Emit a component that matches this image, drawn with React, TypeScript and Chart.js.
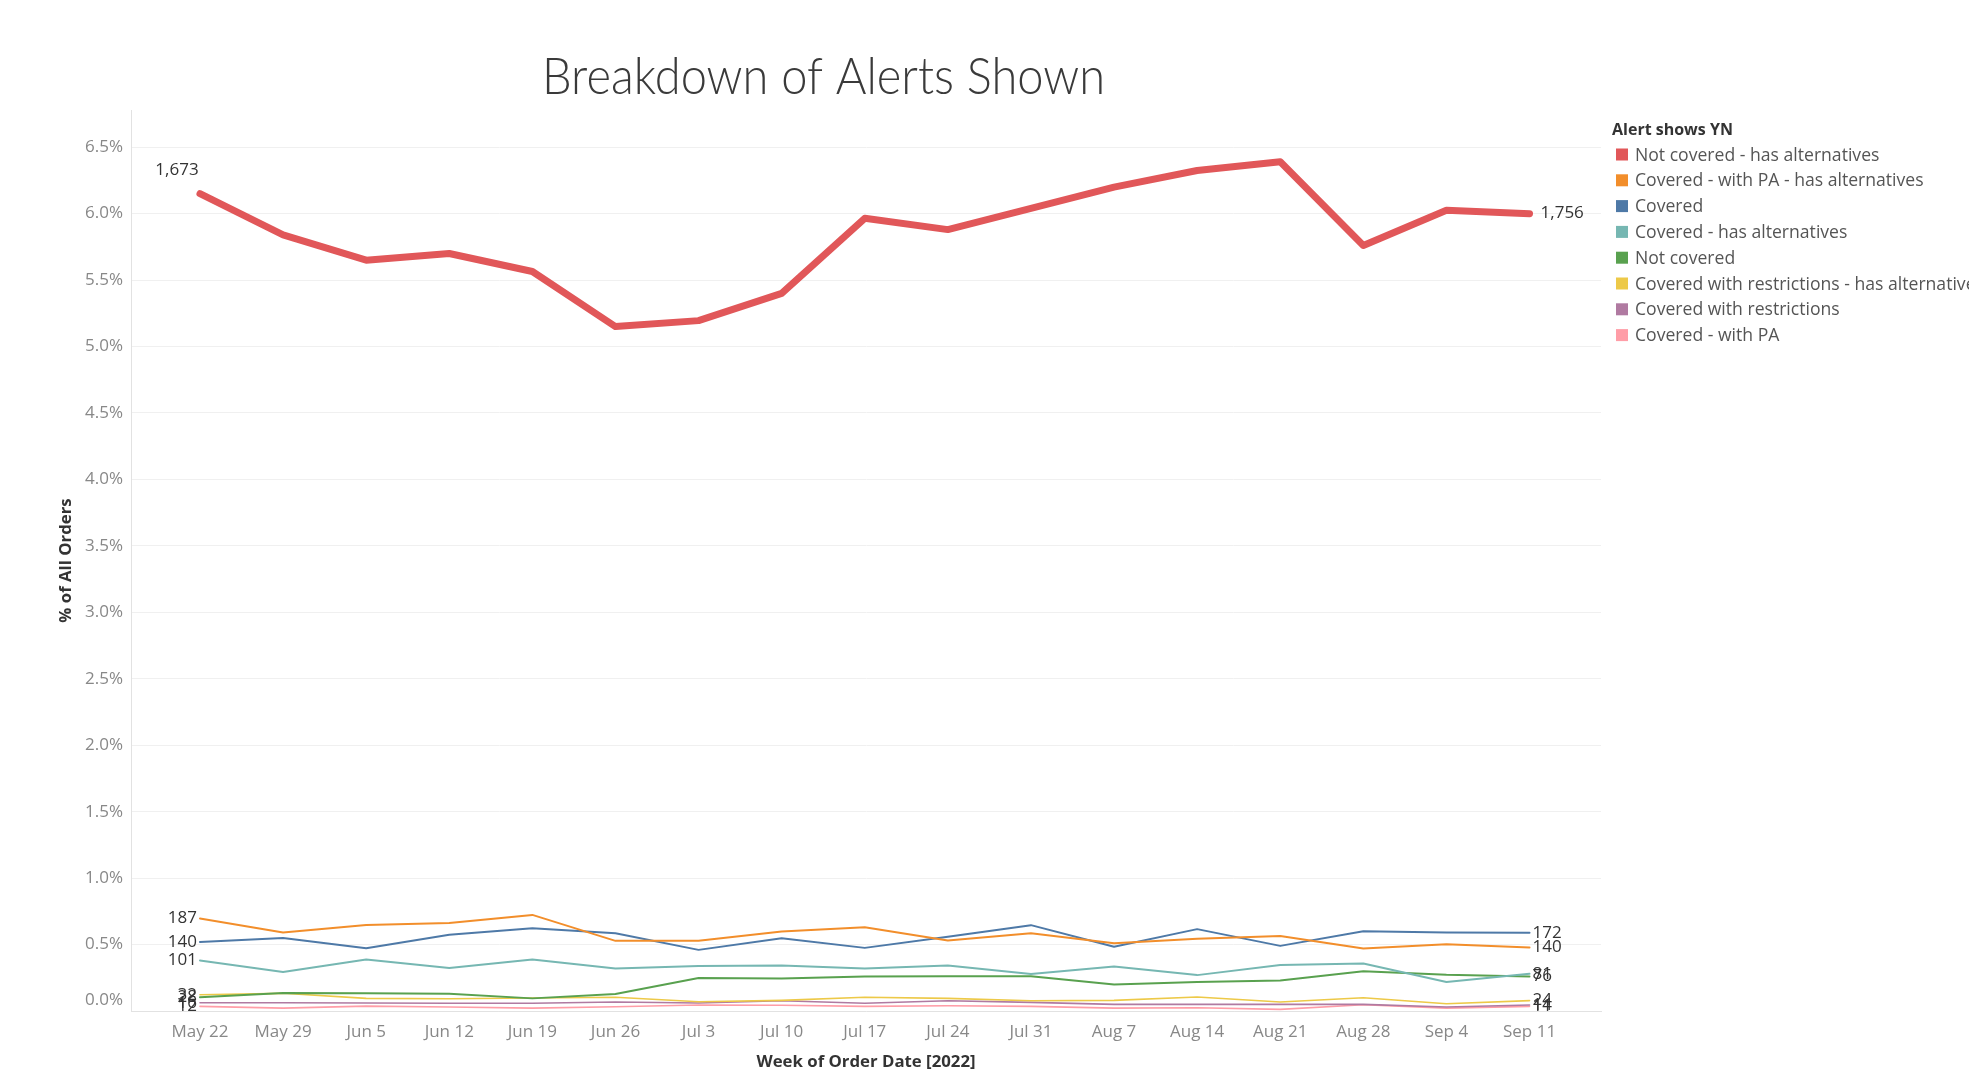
import React, { useEffect, useRef } from 'react';
import { Chart, registerables } from 'chart.js';

Chart.register(...registerables);

// ---------- data ----------
const weeks = ['May 22', 'May 29', 'Jun 5', 'Jun 12', 'Jun 19', 'Jun 26', 'Jul 3', 'Jul 10', 'Jul 17', 'Jul 24', 'Jul 31', 'Aug 7', 'Aug 14', 'Aug 21', 'Aug 28', 'Sep 4', 'Sep 11'];
const yTickValues = [0, 0.5, 1, 1.5, 2, 2.5, 3, 3.5, 4, 4.5, 5, 5.5, 6, 6.5];

const seriesNames = [
  'Not covered - has alternatives',
  'Covered - with PA - has alternatives',
  'Covered',
  'Covered - has alternatives',
  'Not covered',
  'Covered with restrictions - has alternatives',
  'Covered with restrictions',
  'Covered - with PA',
];
const seriesColors = ['#E15759', '#F28E2B', '#4E79A7', '#76B7B2', '#59A14F', '#EDC948', '#B07AA1', '#FF9DA7'];

const notCoveredHasAlt = [6.15, 5.84, 5.65, 5.70, 5.565, 5.15, 5.195, 5.40, 5.965, 5.88, 6.04, 6.20, 6.325, 6.39, 5.76, 6.025, 6.00];
const coveredWithPaHasAlt = [0.696, 0.591, 0.648, 0.663, 0.723, 0.528, 0.528, 0.598, 0.63, 0.53, 0.585, 0.51, 0.544, 0.565, 0.471, 0.502, 0.478];
const covered = [0.52, 0.55, 0.473, 0.573, 0.623, 0.585, 0.46, 0.548, 0.475, 0.558, 0.646, 0.484, 0.616, 0.49, 0.60, 0.59, 0.588];
const coveredHasAlt = [0.38, 0.293, 0.388, 0.323, 0.388, 0.32, 0.338, 0.343, 0.32, 0.343, 0.278, 0.334, 0.27, 0.347, 0.357, 0.218, 0.28];
const notCovered = [0.103, 0.135, 0.133, 0.13, 0.095, 0.128, 0.248, 0.245, 0.26, 0.262, 0.262, 0.2, 0.218, 0.23, 0.30, 0.272, 0.26];
const coveredRestrHasAlt = [0.122, 0.133, 0.095, 0.092, 0.098, 0.103, 0.07, 0.08, 0.103, 0.095, 0.077, 0.08, 0.105, 0.068, 0.1, 0.055, 0.078];
const coveredRestr = [0.062, 0.062, 0.06, 0.058, 0.058, 0.068, 0.06, 0.077, 0.058, 0.077, 0.065, 0.05, 0.05, 0.05, 0.05, 0.03, 0.045];
const coveredWithPa = [0.035, 0.022, 0.037, 0.03, 0.022, 0.032, 0.045, 0.043, 0.035, 0.04, 0.035, 0.022, 0.025, 0.012, 0.047, 0.022, 0.035];

const startLabels = ['1,673', '187', '140', '101', '28', '32', '16', '12'];
const endLabels = ['1,756', '140', '172', '81', '76', '24', '14', '11'];

const seriesValues = [notCoveredHasAlt, coveredWithPaHasAlt, covered, coveredHasAlt, notCovered, coveredRestrHasAlt, coveredRestr, coveredWithPa];
const lineWidths = [7, 2, 2, 2, 2, 1.6, 1.6, 1.6];

const chartTitle = 'Breakdown of Alerts Shown';
const legendTitle = 'Alert shows YN';

// ---------- styling ----------
const W = 1969;
const H = 1072;
const FONT = '"Open Sans", "Noto Sans", sans-serif';

const overlayPlugin = {
  id: 'overlay',
  afterDatasetsDraw(chart: any) {
    const ctx = chart.ctx as CanvasRenderingContext2D;
    ctx.save();
    ctx.fillStyle = '#333333';
    ctx.font = `17px ${FONT}`;
    ctx.textBaseline = 'middle';
    chart.data.datasets.forEach((_ds: any, i: number) => {
      const meta = chart.getDatasetMeta(i);
      const p0 = meta.data[0];
      const pN = meta.data[meta.data.length - 1];
      if (i === 0) {
        ctx.textAlign = 'center';
        ctx.fillText(startLabels[i], p0.x - 23, p0.y - 24);
        ctx.textAlign = 'left';
        ctx.fillText(endLabels[i], pN.x + 11, pN.y);
      } else {
        ctx.textAlign = 'right';
        ctx.fillText(startLabels[i], p0.x - 3, p0.y);
        ctx.textAlign = 'left';
        ctx.fillText(endLabels[i], pN.x + 3, pN.y);
      }
    });
    ctx.restore();
  },
  afterDraw(chart: any) {
    const ctx = chart.ctx as CanvasRenderingContext2D;
    // 0.0% tick label (kept inside the axis like the reference)
    ctx.save();
    const ys = chart.scales.y;
    ctx.font = `17px ${FONT}`;
    ctx.fillStyle = '#888888';
    ctx.textAlign = 'right';
    ctx.textBaseline = 'middle';
    ctx.fillText(yTickValues[0].toFixed(1) + '%', ys.right - 8, ys.getPixelForValue(yTickValues[0]) - 11);
    ctx.restore();

    // title (condensed light look)
    ctx.save();
    ctx.font = `300 52px Lato, ${FONT}`;
    ctx.fillStyle = '#3a3a3a';
    ctx.textAlign = 'left';
    ctx.textBaseline = 'alphabetic';
    const tw = ctx.measureText(chartTitle).width;
    const sx = 563 / tw;
    ctx.translate(542, 94);
    ctx.scale(sx, 1);
    ctx.fillText(chartTitle, 0, 0);
    ctx.restore();

    // legend
    ctx.save();
    ctx.textBaseline = 'middle';
    ctx.textAlign = 'left';
    ctx.font = `bold 16px ${FONT}`;
    ctx.fillStyle = '#333333';
    ctx.fillText(legendTitle, 1612, 130);
    ctx.font = `17.6px ${FONT}`;
    seriesNames.forEach((name, i) => {
      const y = 154.5 + i * 25.8;
      ctx.fillStyle = seriesColors[i];
      ctx.fillRect(1616, y - 6, 12, 12);
      ctx.fillStyle = '#555555';
      ctx.fillText(name, 1635, y + 1);
    });
    ctx.restore();
  },
};

export default function App() {
  const canvasRef = useRef<HTMLCanvasElement | null>(null);

  useEffect(() => {
    if (!canvasRef.current) return;
    const datasets = seriesValues.map((vals, i) => ({
      label: seriesNames[i],
      data: vals.map((v, j) => ({ x: j, y: v })),
      borderColor: seriesColors[i],
      backgroundColor: seriesColors[i],
      borderWidth: lineWidths[i],
      pointRadius: 0,
      tension: 0,
      fill: false,
      borderCapStyle: 'round' as const,
      borderJoinStyle: 'round' as const,
    }));

    const chart = new Chart(canvasRef.current, {
      type: 'line',
      data: { datasets },
      options: {
        animation: false,
        responsive: false,
        maintainAspectRatio: false,
        layout: { padding: { left: 0, right: 368, top: 110, bottom: 0 } },
        plugins: {
          legend: { display: false },
          tooltip: { enabled: false },
          title: { display: false },
        },
        scales: {
          x: {
            type: 'linear',
            min: -0.83,
            max: 16.86,
            afterBuildTicks: (s: any) => {
              s.ticks = weeks.map((_w, i) => ({ value: i }));
            },
            afterFit: (s: any) => {
              s.height = 61;
            },
            ticks: {
              callback: (v: any) => weeks[Math.round(Number(v))] ?? '',
              color: '#888888',
              font: { family: FONT, size: 17 },
              padding: 11,
              maxRotation: 0,
              autoSkip: false,
            },
            grid: { display: false, drawTicks: false },
            border: { display: true, color: '#e2e2e2', width: 1 },
            title: {
              display: true,
              text: 'Week of Order Date [2022]',
              color: '#333333',
              font: { family: FONT, size: 16.8, weight: 'bold' },
              padding: { top: 0, bottom: 0 },
            },
          },
          y: {
            type: 'linear',
            min: 0,
            max: 6.78,
            afterBuildTicks: (s: any) => {
              s.ticks = yTickValues.map((v) => ({ value: v }));
            },
            afterFit: (s: any) => {
              s.width = 131;
            },
            ticks: {
              callback: (v: any) => (Number(v) === yTickValues[0] ? '' : Number(v).toFixed(1) + '%'),
              color: '#888888',
              font: { family: FONT, size: 17 },
              padding: 8,
            },
            grid: { color: '#f0f0f0', drawTicks: false, lineWidth: 1 },
            border: { display: true, color: '#e2e2e2', width: 1 },
            title: {
              display: true,
              text: '% of All Orders',
              color: '#333333',
              font: { family: FONT, size: 16.8, weight: 'bold' },
              padding: { top: 56, bottom: 0 },
            },
          },
        },
      },
      plugins: [overlayPlugin],
    } as any);

    return () => chart.destroy();
  }, []);

  return (
    <div style={{ position: 'fixed', left: 0, top: 0, width: W, height: H, overflow: 'hidden', background: '#ffffff' }}>
      <canvas ref={canvasRef} width={W} height={H} style={{ width: W, height: H, display: 'block' }} />
    </div>
  );
}
